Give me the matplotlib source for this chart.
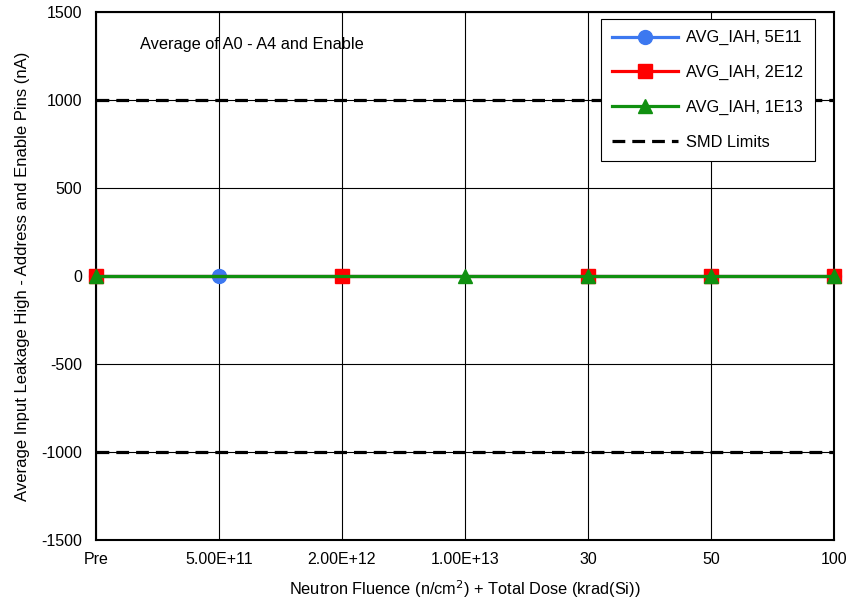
import matplotlib
matplotlib.use("Agg")
import matplotlib.pyplot as plt
import numpy as np

plt.rcParams['font.family'] = ['Liberation Sans', 'DejaVu Sans']
plt.rcParams['axes.unicode_minus'] = False

categories = ["Pre", "5.00E+11", "2.00E+12", "1.00E+13", "30", "50", "100"]
avg_5e11 = [0, 0, None, None, 0, 0, 0]
avg_2e12 = [0, None, 0, None, 0, 0, 0]
avg_1e13 = [0, None, None, 0, 0, 0, 0]
smd_upper = [1000] * len(categories)
smd_lower = [-1000] * len(categories)

fig = plt.figure(figsize=(8.49, 6.01), dpi=100)
ax = fig.add_axes([96/849, 61/601, (834-96)/849, (540-12)/601])

x = np.arange(len(categories))

def series(vals):
    xs = [i for i, v in enumerate(vals) if v is not None]
    ys = [v for v in vals if v is not None]
    return xs, ys

for vals, color, marker, label, ms in [
    (avg_5e11, "#3c78f0", "o", "AVG_IAH, 5E11", 10),
    (avg_2e12, "#ff0000", "s", "AVG_IAH, 2E12", 9.5),
    (avg_1e13, "#109010", "^", "AVG_IAH, 1E13", 10),
]:
    xs, ys = series(vals)
    ax.plot(xs, ys, color=color, marker=marker, markersize=ms, linewidth=2.3,
            label=label, zorder=3, clip_on=False)

ax.plot(x, smd_upper, color="black", linestyle=(0, (4, 2.2)), linewidth=2.3,
        label="SMD Limits", zorder=2)
ax.plot(x, smd_lower, color="black", linestyle=(0, (4, 2.2)), linewidth=2.3, zorder=2)

ax.set_xlim(0, len(categories) - 1)
ax.set_ylim(-1500, 1500)
ax.set_yticks(np.arange(-1500, 1501, 500))
ax.set_xticks(x)
ax.set_xticklabels(categories)
ax.tick_params(axis='both', length=0, labelsize=11.5)
ax.tick_params(axis='y', pad=10)
ax.tick_params(axis='x', pad=9)
ax.grid(True, color="black", linewidth=0.8)
ax.set_axisbelow(True)
for s in ax.spines.values():
    s.set_linewidth(1.5)

ax.set_xlabel("Neutron Fluence (n/cm$^2$) + Total Dose (krad(Si))", fontsize=11.8, labelpad=8)
ax.set_ylabel("Average Input Leakage High - Address and Enable Pins (nA)", fontsize=12, labelpad=8)

ax.text(0.06, 0.9375, "Average of A0 - A4 and Enable", transform=ax.transAxes,
        fontsize=11.8, va="center", ha="left")

leg = ax.legend(loc="upper right", bbox_to_anchor=(0.974, 0.987), fontsize=11.8,
                frameon=True, fancybox=False, edgecolor="black", framealpha=1,
                handlelength=4.0, handletextpad=0.5, labelspacing=1.2, borderpad=0.7,
                borderaxespad=0)
leg.get_frame().set_linewidth(0.8)

fig.savefig("out.png", dpi=100)
